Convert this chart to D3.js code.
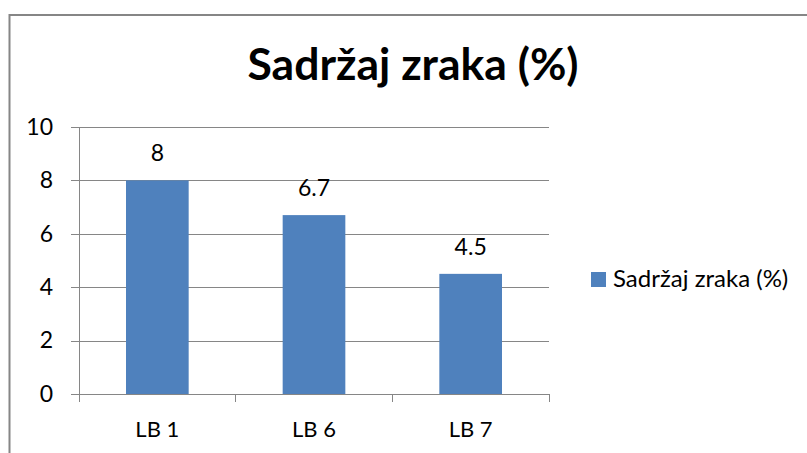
<!DOCTYPE html>
<html>
<head>
<meta charset="utf-8">
<script src="https://cdn.jsdelivr.net/npm/d3@7"></script>
<style>
  body { margin: 0; background: #fff; }
  text { font-family: Lato, "Open Sans", sans-serif; fill: #000; }
</style>
</head>
<body>
<div id="chart"></div>
<script>
const categories = ["LB 1", "LB 6", "LB 7"]
const values = [8, 6.7, 4.5]
const yTicks = [0, 2, 4, 6, 8, 10]
const seriesName = "Sadržaj zraka (%)"
const title = "Sadržaj zraka (%)"

const width = 807
const height = 453
const margin = { top: 127, bottom: 59, left: 79, right: 258 }
const plotW = width - margin.left - margin.right
const plotH = height - margin.top - margin.bottom
const grey = "#868686"
const barColor = "#4F81BD"

const svg = d3.select("#chart").append("svg").attr("width", width).attr("height", height)

// outer chart border (only top and left visible in the crop)
svg.append("rect")
    .attr("x", 9.5).attr("y", 15)
    .attr("width", width + 20).attr("height", height + 20)
    .attr("fill", "none").attr("stroke", grey).attr("stroke-width", 2)

svg.append("text")
    .attr("x", 413).attr("y", 80)
    .attr("text-anchor", "middle")
    .style("font-size", "44.5px").style("font-weight", "bold")
    .text(title)

const x = d3.scaleBand().domain(categories).range([0, plotW]).paddingInner(0.6).paddingOuter(0.3)
const y = d3.scaleLinear().domain([0, 10]).range([plotH, 0])

const g = svg.append("g").attr("transform", `translate(${margin.left}, ${margin.top})`)

// y axis drawn from the right edge so its ticks become the gridlines
const yAxisGroup = g.append("g").attr("transform", `translate(${plotW}, 0)`)
    .call(d3.axisLeft(y).tickValues(yTicks).tickSize(plotW + 8).tickPadding(18))
yAxisGroup.select(".domain").remove()
yAxisGroup.selectAll("line").attr("stroke", grey).attr("shape-rendering", "crispEdges")
yAxisGroup.selectAll("text").style("font-size", "23px").style("font-family", "Lato").attr("fill", "#000")

g.append("line")
    .attr("x1", 0).attr("x2", 0).attr("y1", 0).attr("y2", plotH)
    .attr("stroke", grey).attr("shape-rendering", "crispEdges")

// x axis: ticks at band boundaries
const step = x.step()
const bounds = d3.range(categories.length + 1).map(i => i * step)
const xAxisGroup = g.append("g").attr("transform", `translate(0, ${plotH})`)
xAxisGroup.selectAll("line.tick")
    .data(bounds)
    .enter().append("line")
    .attr("class", "tick")
    .attr("x1", d => d).attr("x2", d => d)
    .attr("y1", 0).attr("y2", 8)
    .attr("stroke", grey).attr("shape-rendering", "crispEdges")
xAxisGroup.selectAll("text")
    .data(categories)
    .enter().append("text")
    .attr("x", d => x(d) + x.bandwidth() / 2)
    .attr("y", 43)
    .attr("text-anchor", "middle")
    .style("font-size", "22px")
    .text(d => d)

const data = categories.map((c, i) => ({ cat: c, value: values[i] }))

g.selectAll("rect.bar")
    .data(data)
    .enter().append("rect")
    .attr("class", "bar")
    .attr("x", d => x(d.cat))
    .attr("y", d => y(d.value))
    .attr("width", x.bandwidth())
    .attr("height", d => plotH - y(d.value))
    .attr("fill", barColor)

g.selectAll("text.label")
    .data(data)
    .enter().append("text")
    .attr("class", "label")
    .attr("x", d => x(d.cat) + x.bandwidth() / 2)
    .attr("y", d => y(d.value) - 19)
    .attr("text-anchor", "middle")
    .style("font-size", "23px")
    .text(d => d.value)

// legend
const legend = svg.append("g").attr("transform", "translate(591, 272)")
legend.append("rect").attr("width", 15).attr("height", 15).attr("fill", barColor)
legend.append("text")
    .attr("x", 22).attr("y", 15)
    .style("font-size", "24px")
    .text(seriesName)
</script>
</body>
</html>
